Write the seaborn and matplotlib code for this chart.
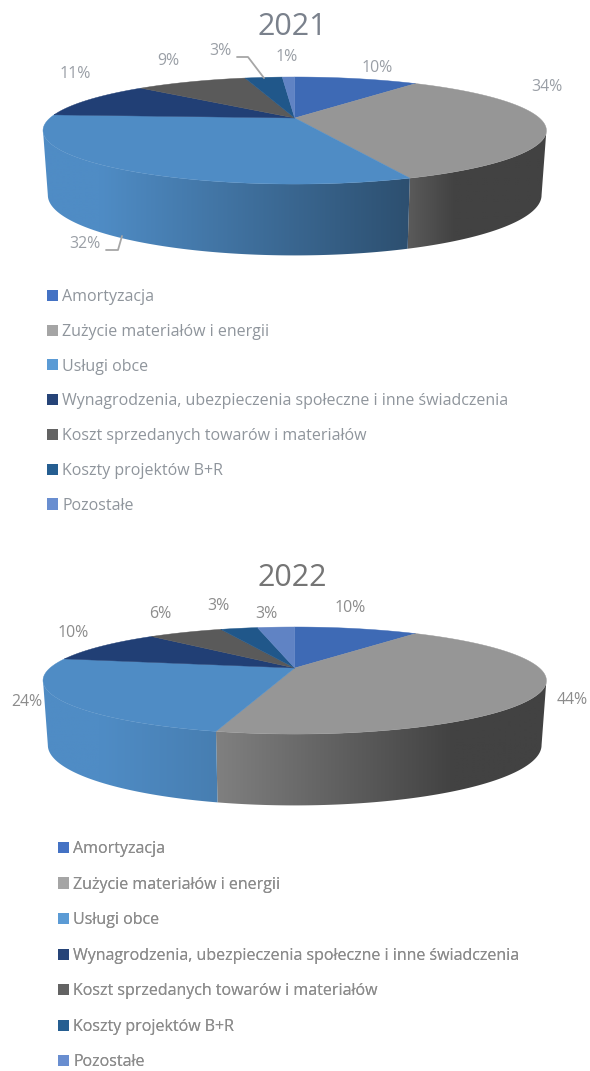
import numpy as np
import matplotlib
matplotlib.use("Agg")
import matplotlib.pyplot as plt
from matplotlib.patches import Polygon, Patch
import seaborn as sns

categories = ["Amortyzacja", "Zużycie materiałów i energii", "Usługi obce",
              "Wynagrodzenia, ubezpieczenia społeczne i inne świadczenia",
              "Koszt sprzedanych towarów i materiałów", "Koszty projektów B+R", "Pozostałe"]
values_2021 = [10, 34, 32, 11, 9, 3, 1]
values_2022 = [10, 44, 24, 10, 6, 3, 3]
top_colors = ["#3E6AB5", "#969696", "#4F8CC5", "#213F75", "#5A5A5A", "#20578A", "#6083C4"]
legend_colors = ["#4472C4", "#A5A5A5", "#5B9BD5", "#264478", "#636363", "#255E91", "#698ED0"]

sns.set_theme(style="white")
plt.rcParams["font.family"] = ["Open Sans", "DejaVu Sans"]

W, H = 590, 1071
fig = plt.figure(figsize=(W / 100, H / 100), dpi=100)
ax = fig.add_axes([0, 0, 1, 1])
ax.set_xlim(0, W)
ax.set_ylim(H, 0)
ax.axis("off")

CX, RX, RY, K = 294.7, 244.7, 50.6, 0.234
RX2, RY2, DY = 240, 57, 63
TANGENT = np.arccos(-K)  # where the disc is widest: the side face is visible between the two tangents


def rim(theta, cy, lower=False):
    rx, ry, dy = (RX2, RY2, DY) if lower else (RX, RY, 0)
    d = 1 + K * np.cos(theta)
    return np.column_stack([CX + rx * np.sin(theta) / d, cy + dy - ry * np.cos(theta) / d])


def pie3d(values, cy, side_shades):
    edges = np.radians(np.concatenate([[0], np.cumsum(values)]) * 3.6)
    pal = sns.color_palette(top_colors)
    # side faces, with a left-to-right shade
    for i, (a, b) in enumerate(zip(edges[:-1], edges[1:])):
        a2, b2 = max(a, TANGENT), min(b, 2 * np.pi - TANGENT)
        if a2 >= b2 or i not in side_shades:
            continue
        th = np.linspace(a2, b2, 200)
        poly = np.vstack([rim(th, cy), rim(th[::-1], cy, True)])
        p = Polygon(poly, closed=True, fc="none", ec="none", transform=ax.transData)
        ax.add_patch(p)
        xs = np.arange(poly[:, 0].min() - 1, poly[:, 0].max() + 2)
        sx, sv = zip(*side_shades[i])
        shade = np.interp(xs, sx, sv)
        img = (np.outer(shade, pal[i]))[None, :, :].clip(0, 1)
        im = ax.imshow(img, extent=(xs[0], xs[-1], poly[:, 1].max() + 1, poly[:, 1].min() - 1),
                       aspect="auto", interpolation="bilinear", zorder=2)
        im.set_clip_path(p)
    # top faces
    for i, (a, b) in enumerate(zip(edges[:-1], edges[1:])):
        th = np.linspace(a, b, 200)
        poly = np.vstack([[CX, cy], rim(th, cy)])
        ax.add_patch(Polygon(poly, closed=True, fc=pal[i], ec=pal[i], lw=0.3, zorder=3))
    ax.set_xlim(0, W)
    ax.set_ylim(H, 0)


pie3d(values_2021, 118, {1: [(408, 0.6), (454, 0.44)], 2: [(100, 1.0), (408, 0.57)]})
pie3d(values_2022, 668, {1: [(218, 0.85), (454, 0.44)], 2: [(100, 1.0), (218, 0.9)]})

LAB1, LAB2 = "#9A9FA6", "#8C8C8C"
pos_2021 = [(377, 68), (547, 87), (85, 244), (75, 74), (168, 61), (220, 51), (287, 57)]
pos_2022 = [(350, 608), (572, 700), (27, 702), (73, 633), (160, 614), (218, 606), (266, 614)]
for vals, pos, col in [(values_2021, pos_2021, LAB1), (values_2022, pos_2022, LAB2)]:
    for v, (x, y) in zip(vals, pos):
        ax.text(x, y, f"{v}%", ha="center", va="center", fontsize=11.4, color=col, zorder=5)

ax.plot([237, 248, 264], [57, 57, 78], color="#A6A6A6", lw=1.3, zorder=4)
ax.plot([106, 118, 122], [250, 250, 236], color="#A6A6A6", lw=1.3, zorder=4)

ax.text(292, 27, "2021", ha="center", va="center", fontsize=22, color="#7A818C")
ax.text(292, 578, "2022", ha="center", va="center", fontsize=22, color="#757575")

handles = [Patch(fc=c, ec="none") for c in legend_colors]
for x, y, col, sp in [(47, 289, "#8F959C", 1.17), (58, 841, "#8C8C8C", 1.22)]:
    leg = ax.legend(handles, categories, loc="upper left", bbox_to_anchor=(x, y),
                    bbox_transform=ax.transData, frameon=False, fontsize=11.55,
                    handlelength=0.69, handleheight=0.69, handletextpad=0.25,
                    labelspacing=sp, borderpad=0, borderaxespad=0, labelcolor=col)
    ax.add_artist(leg)

fig.savefig("out.png", dpi=100)
